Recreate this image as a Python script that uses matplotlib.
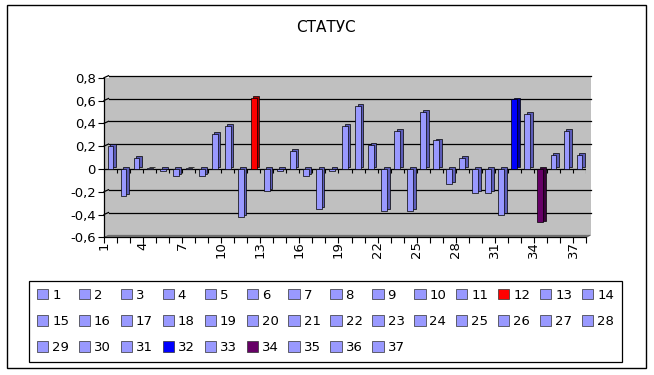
import matplotlib
matplotlib.use('Agg')
import matplotlib.pyplot as plt
from matplotlib.patches import Rectangle, Patch, Polygon
from matplotlib.transforms import ScaledTranslation
import numpy as np

# ---------------- data ----------------
categories = [str(i) for i in range(1, 38)]
values = [0.20, -0.24, 0.10, 0.005, -0.02, -0.06, 0.005, -0.06, 0.31, 0.38,
          -0.42, 0.62, -0.19, -0.02, 0.16, -0.06, -0.35, -0.02, 0.38, 0.55,
          0.21, -0.37, 0.33, -0.37, 0.50, 0.25, -0.13, 0.10, -0.21, -0.21,
          -0.40, 0.61, 0.48, -0.47, 0.12, 0.33, 0.12]
xtick_labels = [str(i) for i in range(1, 38, 3)]
yticks = [-0.6, -0.4, -0.2, 0.0, 0.2, 0.4, 0.6, 0.8]
title = 'СТАТУС'

base_color = '#9999FF'
base_side = '#5C5CB8'
special_colors = {'12': ('#FF0000', '#A80000'),
                  '32': ('#0000FF', '#0000A0'),
                  '34': ('#660066', '#3A003A')}

plt.rcParams['font.family'] = ['DejaVu Sans']

W, H = 654, 375
fig = plt.figure(figsize=(W / 100, H / 100), dpi=100)
fig.patch.set_facecolor('white')

ax_left, ax_right = 104, 586
ax_top, ax_bot = 77.7, 237.3
ax = fig.add_axes([ax_left / W, 1 - ax_bot / H, (ax_right - ax_left) / W, (ax_bot - ax_top) / H])
ax.set_xlim(0.5, 37.5)
ax.set_ylim(-0.6, 0.8)
ax.patch.set_visible(False)

# 3D offset of the back wall
dx_px, dy_px = 4.5, 2.0
off = ScaledTranslation(dx_px / 100, dy_px / 100, fig.dpi_scale_trans)
dx_ax = dx_px / (ax_right - ax_left)
dy_data = dy_px / ((ax_bot - ax_top) / 1.4)

wall = '#C0C0C0'
ax.add_patch(Rectangle((0, 0), 1, 1, transform=ax.transAxes, fc=wall, ec='none', zorder=0, clip_on=False))
ax.add_patch(Rectangle((0, 0), 1, 1, transform=ax.transAxes + off, fc=wall, ec='none', zorder=0, clip_on=False))

# floor strip
ytr = ax.get_yaxis_transform()
floor = Polygon([[0, -0.6], [1, -0.6], [1 + dx_ax, -0.6 + dy_data], [dx_ax, -0.6 + dy_data]],
                closed=True, transform=ytr, fc='#808080', ec='#606060', lw=0.6, zorder=0.5, clip_on=False)
ax.add_patch(floor)

# wall gridlines + connectors
for yv in yticks:
    if yv in (0.0, -0.6):
        continue
    ax.plot([0, 1], [yv, yv], transform=ytr + off, color='black', lw=0.9, zorder=1, clip_on=False)
    ax.plot([0, dx_ax], [yv, yv + dy_data], transform=ytr, color='black', lw=0.9, zorder=1, clip_on=False)

# category axis at zero with ticks at boundaries
x = np.arange(1, len(categories) + 1)
ax.axhline(0, color='black', lw=0.9, zorder=2)
bounds = np.arange(0.5, len(categories) + 1.0, 1.0)
ax.vlines(bounds, -0.035, 0, color='black', lw=0.8, zorder=2)

# bars (side/top faces then front faces)
front = [special_colors.get(c, (base_color, base_side))[0] for c in categories]
sides = [special_colors.get(c, (base_color, base_side))[1] for c in categories]
bw = 0.45
shadow = ax.bar(x, values, width=bw, color=sides, edgecolor='black', lw=0.5, zorder=3)
sh_off = ScaledTranslation(2.5 / 100, 1.8 / 100, fig.dpi_scale_trans)
for b in shadow:
    b.set_transform(ax.transData + sh_off)
ax.bar(x, values, width=bw, color=front, edgecolor='black', lw=0.5, zorder=4)

# axes styling
for s in ['top', 'right']:
    ax.spines[s].set_visible(False)
ax.spines['left'].set_color('black')
ax.spines['left'].set_linewidth(0.9)
ax.spines['bottom'].set_color('black')
ax.spines['bottom'].set_linewidth(0.9)
ax.set_yticks(yticks)
ax.set_yticklabels([('%g' % v).replace('.', ',') for v in yticks], fontsize=9.5)
ax.tick_params(axis='y', direction='out', length=4, width=0.8, pad=2)

ax.set_xticks(list(range(1, 38, 3)))
ax.set_xticklabels(xtick_labels, rotation=90, ha='right', va='top', fontsize=9.5)
ax.set_xticks(bounds, minor=True)
ax.tick_params(axis='x', which='major', length=0, pad=3)
ax.tick_params(axis='x', which='minor', direction='out', length=4, width=0.8)

# legend (row-major display)
handles = [Patch(facecolor=front[i], edgecolor='#303030', lw=0.5) for i in range(len(categories))]
ncol, nrow = 14, 3
order = []
for c in range(ncol):
    for r in range(nrow):
        idx = r * ncol + c
        if idx < len(categories):
            order.append(idx)
leg = fig.legend([handles[i] for i in order], [categories[i] for i in order],
                 ncol=ncol, loc='center', mode='expand',
                 bbox_to_anchor=(29 / W, 1 - 363 / H, (622 - 29) / W, (363 - 280) / H),
                 bbox_transform=fig.transFigure, borderaxespad=0,
                 fontsize=9.5, handlelength=0.85, handleheight=0.85, handletextpad=0.3,
                 columnspacing=0.6, labelspacing=1.0, borderpad=0.6,
                 fancybox=False, framealpha=1, edgecolor='black')
leg.get_frame().set_linewidth(0.9)

# title and chart border
fig.text(326 / W, 1 - 27 / H, title, ha='center', va='center', fontsize=11)
fig.add_artist(Rectangle((7 / W, 1 - 368 / H), (646 - 7) / W, (368 - 5) / H,
                         transform=fig.transFigure, fill=False, ec='black', lw=1))

fig.savefig('out.png', dpi=100)
